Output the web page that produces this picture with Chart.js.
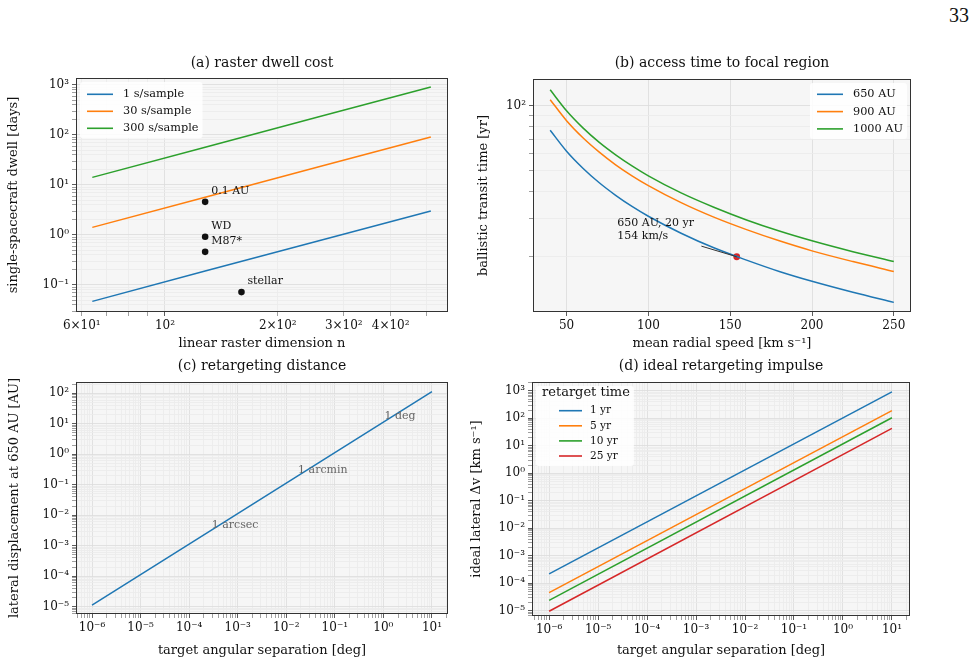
<!DOCTYPE html>
<html>
<head>
<meta charset="utf-8">
<script src="https://cdn.jsdelivr.net/npm/chart.js@4.4.1/dist/chart.umd.min.js"></script>
<style>
  html, body { margin: 0; padding: 0; background: #fff; }
  #page { position: relative; width: 976px; height: 664px; overflow: hidden; }
  #page canvas { position: absolute; }
  #pageNum { position: absolute; left: 949px; top: 5px; font: 20px 'Liberation Serif', serif; line-height: 20px; color: #111; }
</style>
</head>
<body>
<div id="page">
  <div id="pageNum">33</div>
  <canvas id="chartA"></canvas>
  <canvas id="chartB"></canvas>
  <canvas id="chartC"></canvas>
  <canvas id="chartD"></canvas>
</div>
<script>
// (a) raster dwell cost
const rasterN = [64, 128, 256, 512];
const dwell1s = [0.047, 0.19, 0.76, 3.03];
const dwell30s = [1.42, 5.69, 22.8, 91];
const dwell300s = [14.2, 56.9, 228, 910];
const targetNames = ['0.1 AU', 'WD', 'M87*', 'stellar'];
const targetN = [128, 128, 128, 160];
const targetDays = [4.6, 0.92, 0.46, 0.072];
const aXTickValues = [60, 100, 200, 300, 400];
const aXTickLabels = ['6×10¹', '10²', '2×10²', '3×10²', '4×10²'];
const aYTickValues = [0.1, 1, 10, 100, 1000];
const aYTickLabels = ['10⁻¹', '10⁰', '10¹', '10²', '10³'];

// (b) access time to focal region
const speeds = [40, 50, 60, 70, 80, 90, 100, 120, 140, 160, 180, 200, 225, 250];
const transit650 = [77.0, 61.6, 51.4, 44.0, 38.5, 34.2, 30.8, 25.7, 22.0, 19.3, 17.1, 15.4, 13.7, 12.3];
const transit900 = [106.7, 85.3, 71.1, 61.0, 53.3, 47.4, 42.7, 35.6, 30.5, 26.7, 23.7, 21.3, 19.0, 17.1];
const transit1000 = [118.5, 94.8, 79.0, 67.7, 59.3, 52.7, 47.4, 39.5, 33.9, 29.6, 26.3, 23.7, 21.1, 19.0];
const markSpeed = 154;
const markYears = 20;
const bXTickValues = [50, 100, 150, 200, 250];
const bXTickLabels = ['50', '100', '150', '200', '250'];
const bYTickValues = [100];
const bYTickLabels = ['10²'];

// (c) retargeting distance
const sepDeg = [1e-6, 1e-3, 10];
const displacementAU = [1.13e-5, 1.13e-2, 113];
const scaleNames = ['1 arcsec', '1 arcmin', '1 deg'];
const scaleSep = [2.78e-4, 1.67e-2, 1];
const scaleDisp = [3.15e-3, 0.189, 11.3];
const sepTickValues = [1e-6, 1e-5, 1e-4, 1e-3, 1e-2, 1e-1, 1, 10];
const sepTickLabels = ['10⁻⁶', '10⁻⁵', '10⁻⁴', '10⁻³', '10⁻²', '10⁻¹', '10⁰', '10¹'];
const cYTickValues = [1e-5, 1e-4, 1e-3, 1e-2, 1e-1, 1, 10, 100];
const cYTickLabels = ['10⁻⁵', '10⁻⁴', '10⁻³', '10⁻²', '10⁻¹', '10⁰', '10¹', '10²'];

// (d) ideal retargeting impulse
const retargetTimes = ['1 yr', '5 yr', '10 yr', '25 yr'];
const impulseSep = [1e-6, 10];
const impulse1yr = [2.2e-4, 920];
const impulse5yr = [4.6e-5, 190];
const impulse10yr = [2.4e-5, 105];
const impulse25yr = [9.6e-6, 43];
const dYTickValues = [1e-5, 1e-4, 1e-3, 1e-2, 1e-1, 1, 10, 100, 1000];
const dYTickLabels = ['10⁻⁵', '10⁻⁴', '10⁻³', '10⁻²', '10⁻¹', '10⁰', '10¹', '10²', '10³'];

const tab = { blue: '#1f77b4', orange: '#ff7f0e', green: '#2ca02c', red: '#d62728' };
const serif = "'DejaVu Serif', serif";

Chart.defaults.font.family = serif;
Chart.defaults.color = '#111';
Chart.defaults.animation = false;

function pairs(xs, ys) {
    return xs.map((x, i) => ({ x: x, y: ys[i] }));
}

// log ticks: 1..9 x 10^e inside [lo, hi], labels only where given
function logTicks(lo, hi, values, labels) {
    const list = [];
    for (let e = Math.floor(Math.log10(lo)); e <= Math.ceil(Math.log10(hi)); e++) {
        for (let k = 1; k <= 9; k++) {
            const v = k * Math.pow(10, e);
            if (v < lo || v > hi) continue;
            const i = values.findIndex(m => Math.abs(m - v) <= 1e-9 * v);
            list.push({ value: v, major: k === 1, label: i >= 0 ? labels[i] : '' });
        }
    }
    return list;
}

function plainTicks(values, labels) {
    return values.map((v, i) => ({ value: v, major: true, label: labels[i] }));
}

function axis(type, cfg) {
    const list = cfg.ticks;
    return {
        type: type,
        min: cfg.min,
        max: cfg.max,
        bounds: 'data',
        afterBuildTicks: s => { s.ticks = list.map(t => ({ value: t.value, major: t.major })); },
        afterFit: s => {
            if (s.isHorizontal()) s.height = cfg.size; else s.width = cfg.size;
        },
        ticks: {
            autoSkip: false, maxRotation: 0, minRotation: 0, padding: 3,
            font: { size: 12 }, color: '#111',
            callback: (v, i) => (list[i] ? list[i].label : '')
        },
        grid: {
            color: c => (c.tick && c.tick.major ? '#dcdcdc' : '#ebebeb'),
            lineWidth: 0.8,
            tickLength: 4,
            tickColor: c => (c.tick && c.tick.major ? '#333' : '#888')
        },
        border: { display: false },
        title: { display: true, text: cfg.title, font: { size: 13 }, color: '#111', padding: cfg.titlePadding }
    };
}

// background + frame of the axes box
const plotFrame = {
    id: 'plotFrame',
    beforeDraw(chart) {
        const { ctx, chartArea: a } = chart;
        ctx.save();
        ctx.fillStyle = '#f6f6f6';
        ctx.fillRect(a.left, a.top, a.right - a.left, a.bottom - a.top);
        ctx.restore();
    },
    afterDraw(chart) {
        const { ctx, chartArea: a } = chart;
        ctx.save();
        ctx.strokeStyle = '#333';
        ctx.lineWidth = 1;
        ctx.strokeRect(Math.round(a.left) + 0.5, Math.round(a.top) + 0.5,
            Math.round(a.right - a.left) - 1, Math.round(a.bottom - a.top) - 1);
        ctx.restore();
    }
};
Chart.register(plotFrame);

// legend drawn inside the axes, like matplotlib
function makeLegend(cfg) {
    return {
        id: 'axesLegend',
        afterDatasetsDraw(chart) {
            const { ctx, chartArea: a } = chart;
            const items = chart.data.datasets.filter(d => d.inLegend);
            ctx.save();
            ctx.font = cfg.font;
            let w = Math.max(...items.map(d => ctx.measureText(d.label).width)) + cfg.textX;
            if (cfg.title) {
                ctx.font = cfg.titleFont;
                w = Math.max(w, ctx.measureText(cfg.title).width + cfg.titleX);
            }
            const boxW = w + 4;
            const boxH = cfg.firstRow + cfg.gap * (items.length - 1) + 10;
            const bx = cfg.corner === 'right' ? a.right - 4 - boxW : a.left + 4;
            const by = a.top + 4;
            ctx.fillStyle = 'rgba(255,255,255,0.85)';
            ctx.beginPath();
            ctx.roundRect(bx, by, boxW, boxH, 3);
            ctx.fill();
            ctx.textBaseline = 'middle';
            ctx.textAlign = 'left';
            ctx.fillStyle = '#111';
            if (cfg.title) {
                ctx.font = cfg.titleFont;
                ctx.fillText(cfg.title, bx + cfg.titleX, by + cfg.titleY);
            }
            items.forEach((d, i) => {
                const yy = by + cfg.firstRow + i * cfg.gap;
                ctx.strokeStyle = d.borderColor;
                ctx.lineWidth = 1.6;
                ctx.beginPath();
                ctx.moveTo(bx + cfg.lineX0, yy);
                ctx.lineTo(bx + cfg.lineX1, yy);
                ctx.stroke();
                ctx.font = cfg.font;
                ctx.fillStyle = '#111';
                ctx.fillText(d.label, bx + cfg.textX, yy);
            });
            ctx.restore();
        }
    };
}

// text notes (and arrows) placed at data coordinates
function makeNotes(items, arrows) {
    return {
        id: 'notes',
        afterDatasetsDraw(chart) {
            const { ctx, scales: { x, y } } = chart;
            ctx.save();
            (arrows || []).forEach(a => {
                ctx.strokeStyle = '#333';
                ctx.lineWidth = 1;
                ctx.beginPath();
                ctx.moveTo(x.getPixelForValue(a.from[0]), y.getPixelForValue(a.from[1]));
                ctx.lineTo(x.getPixelForValue(a.to[0]), y.getPixelForValue(a.to[1]));
                ctx.stroke();
            });
            items.forEach(n => {
                ctx.font = '11px ' + serif;
                ctx.fillStyle = n.color || '#111';
                ctx.textAlign = 'left';
                ctx.textBaseline = n.baseline || 'middle';
                const px = x.getPixelForValue(n.x) + (n.dx || 0);
                const py = y.getPixelForValue(n.y) + (n.dy || 0);
                n.text.split('\n').forEach((line, k) => ctx.fillText(line, px, py + k * 13));
            });
            ctx.restore();
        }
    };
}

function lineSet(label, xs, ys, color, extra) {
    return Object.assign({
        label: label, data: pairs(xs, ys), borderColor: color, backgroundColor: color,
        borderWidth: 1.5, pointRadius: 0, fill: false, tension: 0, inLegend: true
    }, extra || {});
}

// places a canvas and derives the paddings that put the axes box where it belongs
function buildChart(id, g, spec) {
    const canvas = document.getElementById(id);
    canvas.width = g.width;
    canvas.height = g.height;
    canvas.style.left = g.left + 'px';
    canvas.style.top = g.top + 'px';
    const titleHalf = 14 * 1.2 / 2;
    const labelHalf = 13 * 1.2 / 2;
    spec.x.size = g.top + g.height - g.area.bottom;
    spec.x.titlePadding = { top: 0, bottom: 0 };
    spec.y.size = g.area.left - g.left;
    spec.y.titlePadding = { top: g.yTitleX - g.left - labelHalf, bottom: 0 };
    return new Chart(canvas, {
        type: 'line',
        data: { datasets: spec.datasets },
        options: {
            responsive: false,
            layout: { padding: { left: 0, top: 0, bottom: 0, right: g.left + g.width - g.area.right } },
            scales: { x: axis(spec.xType, spec.x), y: axis('logarithmic', spec.y) },
            plugins: {
                legend: { display: false },
                tooltip: { enabled: false },
                title: {
                    display: true, text: spec.title, fullSize: false, color: '#111',
                    font: { size: 14, weight: 'normal' },
                    padding: { top: g.titleY - g.top - titleHalf, bottom: g.area.top - g.titleY - titleHalf }
                }
            }
        },
        plugins: spec.plugins
    });
}

document.addEventListener('DOMContentLoaded', () => {
    // (a)
    buildChart('chartA',
        { left: 0, top: 45, width: 480, height: 306, area: { left: 76, top: 78, right: 448, bottom: 312 }, titleY: 63, yTitleX: 14 },
        {
            title: '(a) raster dwell cost',
            xType: 'logarithmic',
            x: { min: 57.9, max: 569, ticks: logTicks(57.9, 569, aXTickValues, aXTickLabels), title: 'linear raster dimension n' },
            y: { min: 0.0288, max: 1380, ticks: logTicks(0.0288, 1380, aYTickValues, aYTickLabels), title: 'single-spacecraft dwell [days]' },
            datasets: [
                lineSet('1 s/sample', rasterN, dwell1s, tab.blue),
                lineSet('30 s/sample', rasterN, dwell30s, tab.orange),
                lineSet('300 s/sample', rasterN, dwell300s, tab.green),
                lineSet('targets', targetN, targetDays, '#111', { showLine: false, pointRadius: 3.3, pointBorderWidth: 0, inLegend: false })
            ],
            plugins: [
                makeLegend({ corner: 'left', font: '11.3px ' + serif, firstRow: 12.3, gap: 17, lineX0: 7, lineX1: 33, textX: 43 }),
                makeNotes(targetNames.map((t, i) => ({ x: targetN[i], y: targetDays[i], text: t, dx: 6, dy: -11 })))
            ]
        });

    // (b)
    buildChart('chartB',
        { left: 470, top: 45, width: 506, height: 306, area: { left: 533, top: 79, right: 911, bottom: 312 }, titleY: 63, yTitleX: 484 },
        {
            title: '(b) access time to focal region',
            xType: 'linear',
            x: { min: 29.5, max: 260.5, ticks: plainTicks(bXTickValues, bXTickLabels), title: 'mean radial speed [km s⁻¹]' },
            y: { min: 11.1, max: 133, ticks: logTicks(11.1, 133, bYTickValues, bYTickLabels), title: 'ballistic transit time [yr]' },
            datasets: [
                lineSet('650 AU', speeds, transit650, tab.blue, { cubicInterpolationMode: 'monotone' }),
                lineSet('900 AU', speeds, transit900, tab.orange, { cubicInterpolationMode: 'monotone' }),
                lineSet('1000 AU', speeds, transit1000, tab.green, { cubicInterpolationMode: 'monotone' }),
                lineSet('mark', [markSpeed], [markYears], tab.red, { showLine: false, pointRadius: 3.4, pointBorderWidth: 0, inLegend: false })
            ],
            plugins: [
                makeLegend({ corner: 'right', font: '11.3px ' + serif, firstRow: 11.3, gap: 17.3, lineX0: 7, lineX1: 33, textX: 43 }),
                makeNotes([{ x: 81, y: 28.6, text: '650 AU, 20 yr\n154 km/s' }],
                    [{ from: [132.4, 22.4], to: [markSpeed, markYears] }])
            ]
        });

    // (c)
    buildChart('chartC',
        { left: 0, top: 350, width: 462, height: 308, area: { left: 76, top: 382, right: 448, bottom: 614 }, titleY: 366, yTitleX: 15 },
        {
            title: '(c) retargeting distance',
            xType: 'logarithmic',
            x: { min: 4.68e-7, max: 21.4, ticks: logTicks(4.68e-7, 21.4, sepTickValues, sepTickLabels), title: 'target angular separation [deg]' },
            y: { min: 5.75e-6, max: 234, ticks: logTicks(5.75e-6, 234, cYTickValues, cYTickLabels), title: 'lateral displacement at 650 AU [AU]' },
            datasets: [
                lineSet('displacement', sepDeg, displacementAU, tab.blue, { inLegend: false })
            ],
            plugins: [
                makeNotes(scaleNames.map((t, i) => ({ x: scaleSep[i], y: scaleDisp[i], text: t, dx: 1, dy: -3, baseline: 'alphabetic', color: '#666' })))
            ]
        });

    // (d)
    buildChart('chartD',
        { left: 462, top: 350, width: 514, height: 308, area: { left: 532, top: 382, right: 910, bottom: 616 }, titleY: 366, yTitleX: 477 },
        {
            title: '(d) ideal retargeting impulse',
            xType: 'logarithmic',
            x: { min: 4.47e-7, max: 23.4, ticks: logTicks(4.47e-7, 23.4, sepTickValues, sepTickLabels), title: 'target angular separation [deg]' },
            y: { min: 6.46e-6, max: 2090, ticks: logTicks(6.46e-6, 2090, dYTickValues, dYTickLabels), title: 'ideal lateral Δv [km s⁻¹]' },
            datasets: [
                lineSet(retargetTimes[0], impulseSep, impulse1yr, tab.blue),
                lineSet(retargetTimes[1], impulseSep, impulse5yr, tab.orange),
                lineSet(retargetTimes[2], impulseSep, impulse10yr, tab.green),
                lineSet(retargetTimes[3], impulseSep, impulse25yr, tab.red)
            ],
            plugins: [
                makeLegend({ corner: 'left', title: 'retarget time', titleFont: '13px ' + serif, titleX: 6, titleY: 6.5,
                    font: '10.6px ' + serif, firstRow: 24.7, gap: 15.1, lineX0: 23, lineX1: 46, textX: 54 })
            ]
        });
});
</script>
</body>
</html>
